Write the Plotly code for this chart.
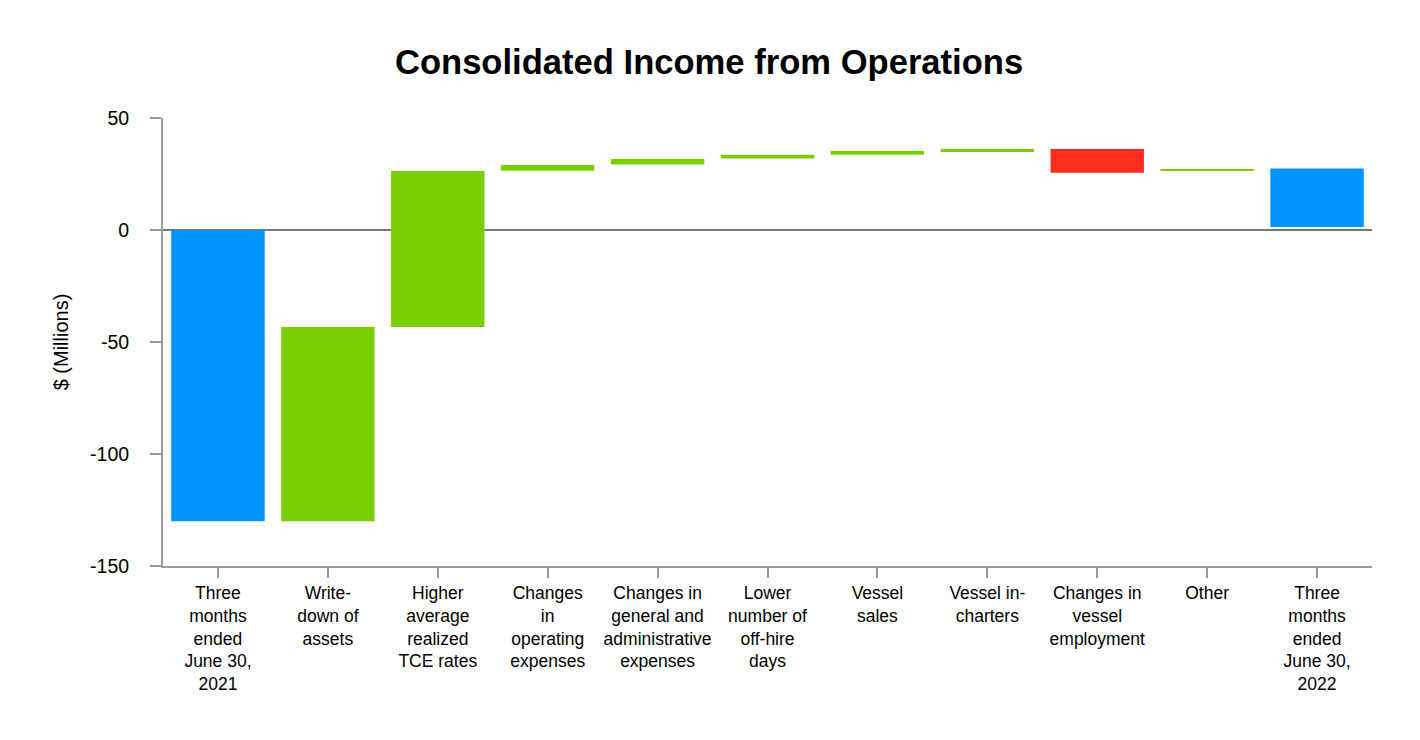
import plotly.graph_objects as go

categories = [
    "Three<br>months<br>ended<br>June 30,<br>2021",
    "Write-<br>down of<br>assets",
    "Higher<br>average<br>realized<br>TCE rates",
    "Changes<br>in<br>operating<br>expenses",
    "Changes in<br>general and<br>administrative<br>expenses",
    "Lower<br>number of<br>off-hire<br>days",
    "Vessel<br>sales",
    "Vessel in-<br>charters",
    "Changes in<br>vessel<br>employment",
    "Other",
    "Three<br>months<br>ended<br>June 30,<br>2022",
]
bar_low = [-130.0, -130.0, -43.3, 26.5, 29.2, 31.9, 33.6, 34.8, 25.6, 26.3, 1.3]
bar_high = [0.0, -43.3, 26.3, 29.0, 31.7, 33.6, 35.3, 36.2, 36.2, 27.2, 27.4]
bar_kind = ["total", "up", "up", "up", "up", "up", "up", "up", "down", "up", "total"]
y_ticks = [-150, -100, -50, 0, 50]

palette = {"total": "#0095ff", "up": "#7acf04", "down": "#ff2d1f"}
colors = [palette[k] for k in bar_kind]

fig = go.Figure(
    go.Bar(
        x=list(range(len(categories))),
        y=[h - l for l, h in zip(bar_low, bar_high)],
        base=bar_low,
        marker=dict(color=colors, line=dict(width=0)),
        width=0.85,
        hoverinfo="skip",
    )
)

fig.update_layout(
    width=1420,
    height=740,
    paper_bgcolor="white",
    plot_bgcolor="white",
    margin=dict(l=155, r=56, t=110, b=182),
    showlegend=False,
    font=dict(family="Liberation Sans, Arial, sans-serif", color="#000"),
    title=dict(
        text="<b>Consolidated Income from Operations</b>",
        x=0.4937,
        xanchor="center",
        y=0.927,
        yanchor="middle",
        font=dict(size=34.6, color="#000"),
    ),
)

fig.update_xaxes(
    range=[-0.5, len(categories) - 0.5],
    tickmode="array",
    tickvals=list(range(len(categories))),
    ticktext=categories,
    tickangle=0,
    showline=True,
    linecolor="#999999",
    linewidth=2,
    ticks="outside",
    ticklen=10,
    tickwidth=1.5,
    tickcolor="#999999",
    showgrid=False,
    zeroline=False,
    tickfont=dict(size=17.5),
)

fig.update_yaxes(
    range=[-150, 50],
    tickmode="array",
    tickvals=y_ticks,
    ticktext=[str(v) for v in y_ticks],
    showline=True,
    linecolor="#999999",
    linewidth=2,
    ticks="outside",
    ticklen=11,
    tickwidth=1.5,
    tickcolor="#999999",
    ticklabelstandoff=17,
    showgrid=False,
    zeroline=True,
    zerolinecolor="#777777",
    zerolinewidth=2,
    tickfont=dict(size=19.5),
    title=dict(text="$ (Millions)", font=dict(size=20), standoff=16),
)

fig.write_html("out.html")
